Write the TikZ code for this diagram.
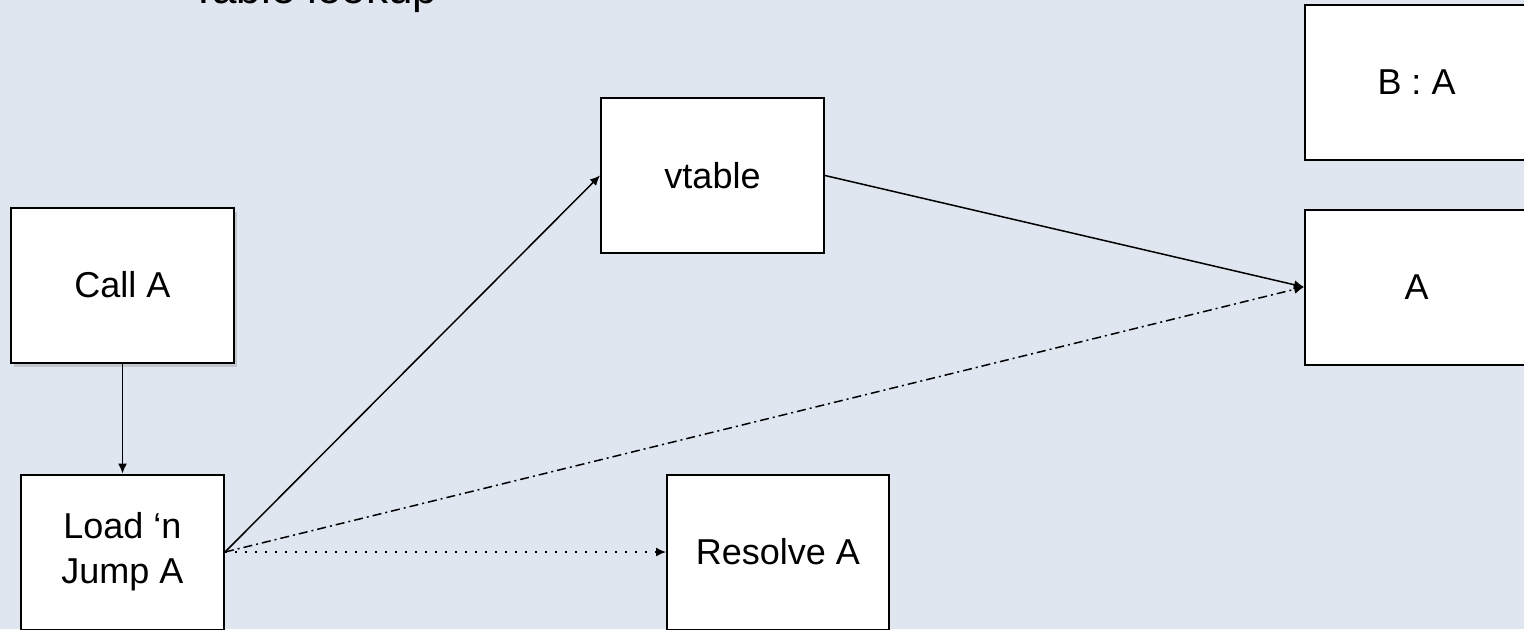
\documentclass[tikz,border=0pt]{standalone}
\usepackage{fontspec}
\setmainfont{Liberation Sans}
\usetikzlibrary{arrows.meta, shadows}
\definecolor{slidebg}{RGB}{223,230,240}
\tikzstyle{title} = [anchor=base west, inner sep=0pt, font=\fontsize{22}{26}\selectfont]
\tikzstyle{block} = [rectangle, minimum width=111.5pt, minimum height=77.5pt, text centered, align=center, draw=black, line width=1pt, fill=white, font=\fontsize{18}{22.5}\selectfont]
\tikzstyle{arrow} = [line width=0.75pt,-{Latex[length=5pt,width=4.5pt]}]
\tikzstyle{dashdot} = [dash pattern=on 4.5pt off 2pt on 1pt off 2pt]
\tikzstyle{dots} = [dash pattern=on 1pt off 4pt]

\begin{document}
\begin{tikzpicture}[x=0.5pt, y=-0.5pt, node distance=133.5pt]
		\fill [slidebg] (0,0) rectangle (1524,629);
		\useasboundingbox (0,0) rectangle (1524,629);
		\node (heading) [title] at (190,3) {Table lookup};
		\node (call) [block, drop shadow={shadow xshift=1.5pt, shadow yshift=-2pt, opacity=0.3}] at (122.5,285) {Call A};
		\node (load) [block, below of=call, minimum width=101.5pt] {Load ‘n\\Jump A};
		\node (resolve) [block, right of=load, node distance=327.75pt, minimum width=111pt] {Resolve A};
		\node (vtable) [block] at (712.5,175.5) {vtable};
		\node (ba) [block] at (1416.5,82.5) {B : A};
		\node (a) [block, below of=ba, node distance=102.25pt] {A};
		\draw [arrow] (call) -- (load);
		\draw [arrow] (load.east) -- (vtable.west);
		\draw [arrow] (vtable.east) -- (a.west);
		\draw [arrow, dashdot] (load.east) -- (a.west);
		\draw [arrow, dots] (load.east) -- (resolve.west);
\end{tikzpicture}
\end{document}
